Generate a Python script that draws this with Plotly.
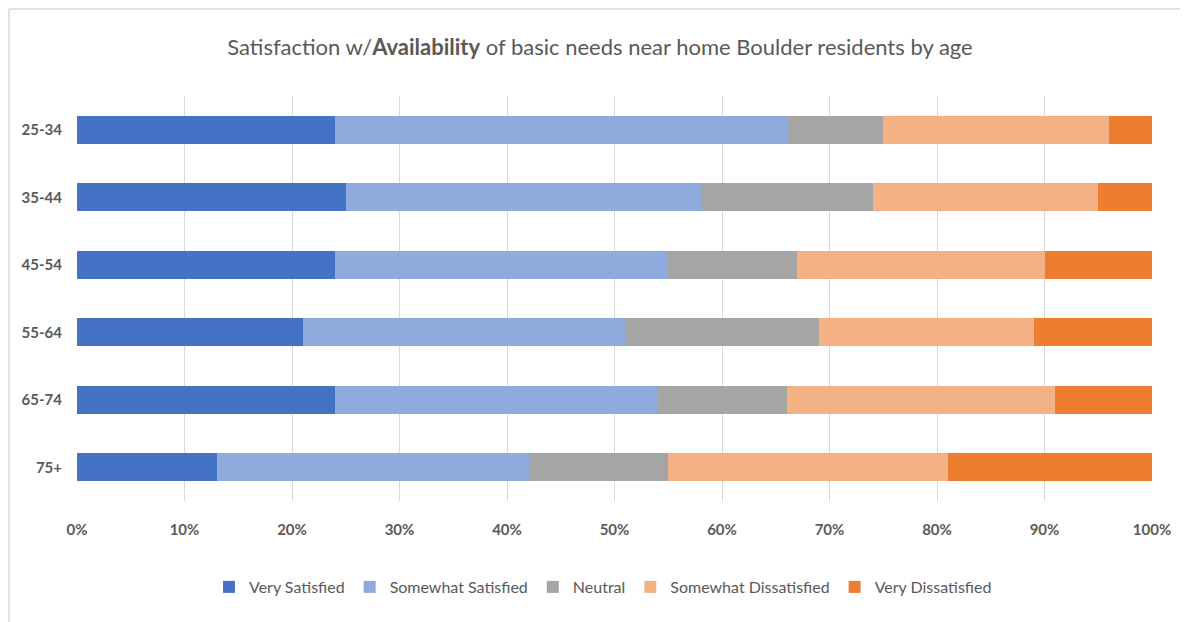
import plotly.graph_objects as go

ages = ["25-34", "35-44", "45-54", "55-64", "65-74", "75+"]
very_satisfied = [24, 25, 24, 21, 24, 13]
somewhat_satisfied = [42, 33, 31, 30, 30, 29]
neutral = [9, 16, 12, 18, 12, 13]
somewhat_dissatisfied = [21, 21, 23, 20, 25, 26]
very_dissatisfied = [4, 5, 10, 11, 9, 19]

series = [
    ("Very Satisfied", very_satisfied, "#4472C4"),
    ("Somewhat Satisfied", somewhat_satisfied, "#8FAADC"),
    ("Neutral", neutral, "#A5A5A5"),
    ("Somewhat Dissatisfied", somewhat_dissatisfied, "#F4B183"),
    ("Very Dissatisfied", very_dissatisfied, "#ED7D31"),
]

FONT = "Lato, Liberation Sans Narrow, DejaVu Sans Condensed, sans-serif"

fig = go.Figure()
for name, vals, color in series:
    fig.add_trace(go.Bar(
        y=ages, x=[v / 100 for v in vals], name=name, orientation="h",
        marker=dict(color=color, line=dict(width=0)), width=0.42,
    ))

OFF = 8  # default page body margin
W, H = 1188 - OFF, 622 - OFF
l, t = 77 - OFF, 96 - OFF
pw, ph = 1075, 405
r, b = W - l - pw, H - t - ph
bottom = t + ph  # figure-pixel y of plot bottom

fig.update_layout(
    barmode="stack",
    width=W, height=H,
    margin=dict(l=l, r=r, t=t, b=b),
    paper_bgcolor="white", plot_bgcolor="white",
    font=dict(family=FONT, color="#595959"),
    title=dict(
        text="Satisfaction w/<b>Availability</b> of basic needs near home Boulder residents by age",
        x=(600 - OFF) / W, xanchor="center", y=1 - (47 - OFF) / H, yanchor="middle",
        font=dict(size=22, color="#595959", family=FONT),
    ),
    xaxis=dict(
        range=[0, 1], tickvals=[i / 10 for i in range(11)], tickformat=".0%",
        showgrid=True, gridcolor="#D9D9D9", gridwidth=1, zeroline=False,
        tickfont=dict(size=15, color="#595959", family=FONT, weight="bold"),
        ticks="", ticklabelstandoff=18, showline=False,
    ),
    yaxis=dict(
        categoryorder="array", categoryarray=ages, autorange="reversed",
        tickfont=dict(size=15, color="#595959", family=FONT, weight="bold"),
        ticks="", ticklabelstandoff=14, showgrid=False, zeroline=False,
    ),
    legend=dict(
        orientation="h", x=(603 - 77) / pw, xanchor="center",
        y=-(587 - 501) / ph, yanchor="middle",
        font=dict(size=16, color="#595959", family=FONT), traceorder="normal",
        itemwidth=30,
    ),
    shapes=[
        dict(type="line", xref="paper", yref="paper",
             x0=(1 - l) / pw, x1=(1 - l) / pw, y0=(bottom - H - 10) / ph, y1=(bottom - 1) / ph,
             line=dict(color="#D9D9D9", width=1.5)),
        dict(type="line", xref="paper", yref="paper",
             x0=(1 - l) / pw, x1=(W + 10 - l) / pw, y0=(bottom - 1) / ph, y1=(bottom - 1) / ph,
             line=dict(color="#D9D9D9", width=1.5)),
    ],
)

fig.write_html("out.html")
